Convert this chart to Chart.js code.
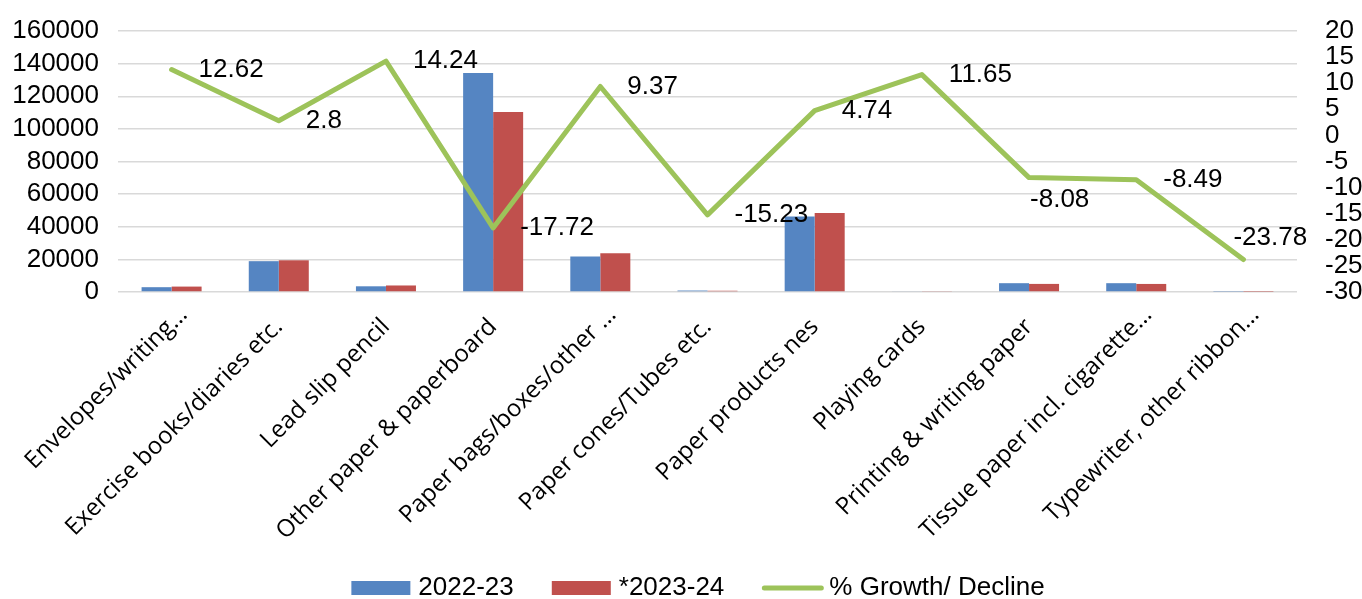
<!DOCTYPE html>
<html>
<head>
<meta charset="utf-8">
<script src="https://cdn.jsdelivr.net/npm/chart.js@4.4.1/dist/chart.umd.min.js"></script>
<style>
  html, body { margin: 0; padding: 0; background: #fff; }
  #chart { display: block; }
</style>
</head>
<body>
<canvas id="chart" width="1362" height="599"></canvas>
<script>
  // ---- data ----
  const categories = [
    "Envelopes/writing…",
    "Exercise books/diaries etc.",
    "Lead slip pencil",
    "Other paper & paperboard",
    "Paper bags/boxes/other …",
    "Paper cones/Tubes etc.",
    "Paper products nes",
    "Playing cards",
    "Printing & writing paper",
    "Tissue paper incl. cigarette…",
    "Typewriter, other ribbon…"
  ];
  const values2022 = [2950, 18900, 3500, 134200, 21700, 900, 46300, 500, 5400, 5400, 250];
  const values2023 = [3320, 19430, 4000, 110420, 23730, 763, 48500, 558, 4960, 4940, 190];
  const growth = [12.62, 2.8, 14.24, -17.72, 9.37, -15.23, 4.74, 11.65, -8.08, -8.49, -23.78];

  const seriesNames = ["2022-23", "*2023-24", "% Growth/ Decline"];
  const leftAxis = [0, 160000, 20000];   // min, max, step
  const rightAxis = [-30, 20, 5];

  // where each growth label sits relative to its point
  const labelPlace = ["right", "right", "right", "right", "right", "right",
                      "right", "right", "below", "right", "above"];

  const BLUE = "#5585C2", RED = "#C0504D", GREEN = "#9DC35A";
  const numFont = "'Liberation Sans', Arial, sans-serif";

  // value labels next to each line point
  const growthLabels = {
    id: "growthLabels",
    afterDatasetsDraw(chart) {
      const meta = chart.getDatasetMeta(2);
      const ctx = chart.ctx;
      ctx.save();
      ctx.font = "26px " + numFont;
      ctx.fillStyle = "#000";
      ctx.textAlign = "left";
      ctx.textBaseline = "middle";
      meta.data.forEach((pt, i) => {
        let x = pt.x + 27, y = pt.y;
        if (labelPlace[i] === "below") { x = pt.x + 1; y = pt.y + 22; }
        if (labelPlace[i] === "above") { x = pt.x - 10; y = pt.y - 22; }
        ctx.fillText(String(growth[i]), x, y);
      });
      ctx.restore();
    }
  };

  // rotated category labels
  const catLabels = {
    id: "catLabels",
    afterDraw(chart) {
      const xs = chart.scales.x;
      const ctx = chart.ctx;
      ctx.save();
      ctx.font = "24px 'Open Sans', sans-serif";
      ctx.fillStyle = "#000";
      ctx.textAlign = "right";
      ctx.textBaseline = "middle";
      categories.forEach((lab, i) => {
        const cx = xs.getPixelForValue(i);
        const shift = lab.endsWith("…") ? 12 : 0;
        ctx.save();
        ctx.translate(cx + shift, xs.top + 31 - shift);
        ctx.rotate(-Math.PI / 4);
        ctx.fillText(lab, 0, 0);
        ctx.restore();
      });
      ctx.restore();
    }
  };

  // legend at the bottom
  const bottomLegend = {
    id: "bottomLegend",
    afterDraw(chart) {
      const ctx = chart.ctx;
      const y = 588;
      const boxW = 59, gap = 8, itemGap = 38;
      ctx.save();
      ctx.font = "26px " + numFont;
      ctx.textBaseline = "middle";
      ctx.textAlign = "left";
      const widths = seriesNames.map(n => ctx.measureText(n).width);
      const total = widths.reduce((s, w) => s + boxW + gap + w, 0) + itemGap * (seriesNames.length - 1);
      let x = 698 - total / 2;
      const colors = [BLUE, RED, GREEN];
      seriesNames.forEach((name, i) => {
        if (i < 2) {
          ctx.fillStyle = colors[i];
          ctx.fillRect(x, y - 7, boxW, 14);
        } else {
          ctx.strokeStyle = colors[i];
          ctx.lineWidth = 5;
          ctx.lineCap = "round";
          ctx.beginPath();
          ctx.moveTo(x + 2, y);
          ctx.lineTo(x + boxW, y);
          ctx.stroke();
        }
        ctx.fillStyle = "#000";
        ctx.fillText(name, x + boxW + gap, y);
        x += boxW + gap + widths[i] + itemGap;
      });
      ctx.restore();
    }
  };

  // fixed axis widths, no extra label padding above/below the plot
  function fitY(width) {
    return s => { s.width = width; s.paddingTop = 0; s.paddingBottom = 0; };
  }

  new Chart(document.getElementById("chart").getContext("2d"), {
    data: {
      labels: categories,
      datasets: [
        { type: "bar", label: seriesNames[0], data: values2022, backgroundColor: BLUE,
          yAxisID: "y", order: 1, barPercentage: 1, categoryPercentage: 0.56 },
        { type: "bar", label: seriesNames[1], data: values2023, backgroundColor: RED,
          yAxisID: "y", order: 1, barPercentage: 1, categoryPercentage: 0.56 },
        { type: "line", label: seriesNames[2], data: growth, borderColor: GREEN, borderWidth: 5,
          pointRadius: 0, tension: 0, fill: false, yAxisID: "y1", order: 0,
          borderCapStyle: "round", borderJoinStyle: "round" }
      ]
    },
    options: {
      responsive: false,
      animation: false,
      layout: { padding: { top: 31, left: 0, right: 0, bottom: 0 } },
      plugins: { legend: { display: false }, tooltip: { enabled: false } },
      scales: {
        x: {
          ticks: { display: false },
          grid: { display: false },
          border: { display: false },
          afterFit: s => { s.height = 307; }
        },
        y: {
          position: "left",
          min: leftAxis[0], max: leftAxis[1],
          ticks: { stepSize: leftAxis[2], padding: 19, color: "#000", autoSkip: false,
                   font: { family: numFont, size: 26 }, callback: v => String(v) },
          grid: { color: "#D9D9D9", lineWidth: 1.5, drawTicks: false },
          border: { display: false },
          afterFit: fitY(118)
        },
        y1: {
          position: "right",
          min: rightAxis[0], max: rightAxis[1],
          ticks: { stepSize: rightAxis[2], padding: 28, color: "#000", autoSkip: false,
                   font: { family: numFont, size: 26 }, callback: v => String(v) },
          grid: { display: false, drawTicks: false },
          border: { display: false },
          afterFit: fitY(65)
        }
      }
    },
    plugins: [growthLabels, catLabels, bottomLegend]
  });
</script>
</body>
</html>
